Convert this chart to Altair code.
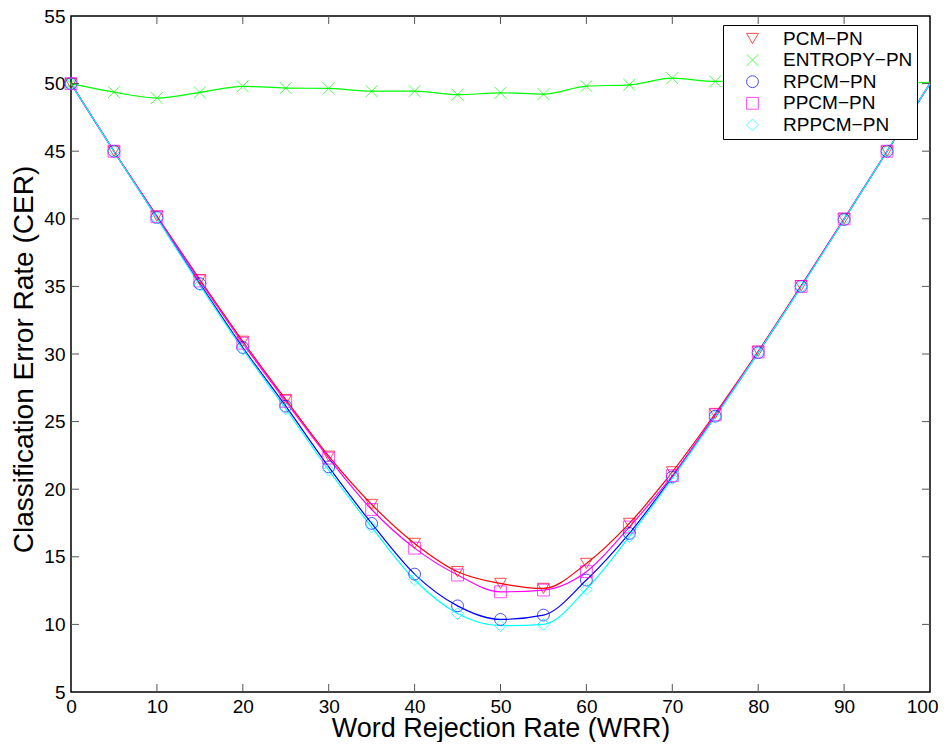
import altair as alt
import pandas as pd

# ---- data ----
x_vals = [0, 5, 10, 15, 20, 25, 30, 35, 40, 45, 50, 55, 60, 65, 70, 75, 80, 85, 90, 95, 100]
series_names = ["PCM\u2212PN", "ENTROPY\u2212PN", "RPCM\u2212PN", "PPCM\u2212PN", "RPPCM\u2212PN"]

pcm = [50.0, 45.0, 40.2, 35.5, 30.94, 26.63, 22.44, 18.87, 15.99, 13.9, 13.03, 12.66,
       14.51, 17.47, 21.28, 25.6, 30.2, 35.05, 40.0, 45.0, 50.0]
entropy = [50.0, 49.37, 48.93, 49.35, 49.8, 49.67, 49.64, 49.44, 49.44, 49.18, 49.32, 49.22,
           49.81, 49.91, 50.4, 50.16, 50.3, 50.1, 50.2, 50.0, 50.1]
rpcm = [50.0, 45.0, 40.1, 35.2, 30.48, 26.14, 21.65, 17.47, 13.72, 11.37, 10.37, 10.69,
        13.28, 16.73, 20.91, 25.4, 30.1, 35.0, 39.95, 45.0, 50.0]
ppcm = [50.0, 45.0, 40.15, 35.4, 30.8, 26.5, 22.3, 18.5, 15.64, 13.65, 12.41, 12.54,
        13.9, 17.2, 21.0, 25.5, 30.15, 35.0, 40.0, 45.0, 50.0]
rppcm = [50.0, 45.0, 40.05, 35.1, 30.35, 25.95, 21.4, 17.2, 13.3, 10.8, 9.9, 10.0,
         12.6, 16.5, 20.8, 25.35, 30.1, 34.95, 39.95, 45.0, 50.0]

colors = ["#FF0000", "#00FF00", "#0000FF", "#FF00FF", "#00FFFF"]
shapes = ["triangle-down", "M-1,-1L1,1M1,-1L-1,1", "circle", "square", "diamond"]

x_label_vals = [0, 10, 20, 30, 40, 50, 60, 70, 80, 90, 100]
y_label_vals = [5, 10, 15, 20, 25, 30, 35, 40, 45, 50, 55]
x_tick_vals = [10, 20, 30, 40, 50, 60, 70, 80, 90]
y_tick_vals = [10, 15, 20, 25, 30, 35, 40, 45, 50]

# ---- build tables ----
rows = []
for name, vals in zip(series_names, [pcm, entropy, rpcm, ppcm, rppcm]):
    for xv, yv in zip(x_vals, vals):
        rows.append({"series": name, "x": xv, "y": yv})
df = pd.DataFrame(rows)
xt = pd.DataFrame({"x": x_tick_vals})
yt = pd.DataFrame({"y": y_tick_vals})

W, H = 859, 676

x_enc = alt.X("x:Q", scale=alt.Scale(domain=[0, 100], nice=False, zero=False),
              axis=alt.Axis(values=x_label_vals, ticks=False, tickSize=0, domain=False, grid=False,
                            labelFlush=False, labelFontSize=19, labelColor="black", labelPadding=5,
                            labelAlign={"condition": {"test": "datum.value === 100", "value": "right"},
                                        "value": "center"},
                            labelOffset={"condition": {"test": "datum.value === 100", "value": 8},
                                         "value": 0},
                            title="Word Rejection Rate (WRR)", titleFontSize=27,
                            titleFontWeight="normal", titleColor="black",
                            titleY=44, titleBaseline="alphabetic"))
y_enc = alt.Y("y:Q", scale=alt.Scale(domain=[5, 55], nice=False, zero=False),
              axis=alt.Axis(values=y_label_vals, ticks=False, tickSize=0, domain=False, grid=False,
                            labelFlush=False, labelFontSize=19, labelColor="black", labelPadding=6,
                            title="Classification Error Rate (CER)", titleFontSize=28,
                            titleFontWeight="normal", titleColor="black",
                            titleX=-33, titleY=343))

legend = alt.Legend(orient="none", legendX=652, legendY=9, title=None,
                    fillColor="white", strokeColor="black", padding=4, rowPadding=1.6,
                    symbolOffset=16, labelOffset=21, labelFontSize=19, labelColor="black",
                    symbolSize=140, symbolStrokeWidth=1, labelLimit=300, zindex=2)

line_layers = []
for name, col in zip(series_names, colors):
    line_layers.append(
        alt.Chart(df).transform_filter(alt.datum.series == name)
        .mark_line(strokeWidth=1.2, interpolate="monotone", color=col)
        .encode(x=x_enc, y=y_enc)
    )

points = alt.Chart(df).transform_filter("datum.x < 100").mark_point(
    filled=False, size=140, strokeWidth=1
).encode(
    x=x_enc, y=y_enc,
    color=alt.Color("series:N", scale=alt.Scale(domain=series_names, range=colors), legend=legend),
    shape=alt.Shape("series:N", scale=alt.Scale(domain=series_names, range=shapes), legend=legend),
)

tick_color = "#555555"
xb = alt.Chart(xt).mark_rule(color=tick_color, strokeWidth=1).encode(
    x=x_enc, y=alt.value(H), y2=alt.value(H - 8))
xtop = alt.Chart(xt).mark_rule(color=tick_color, strokeWidth=1).encode(
    x=x_enc, y=alt.value(0), y2=alt.value(8))
yl = alt.Chart(yt).mark_rule(color=tick_color, strokeWidth=1).encode(
    y=y_enc, x=alt.value(0), x2=alt.value(8))
yr = alt.Chart(yt).mark_rule(color=tick_color, strokeWidth=1).encode(
    y=y_enc, x=alt.value(W), x2=alt.value(W - 8))

chart = alt.layer(*line_layers, points, xb, xtop, yl, yr).properties(
    width=W, height=H,
    autosize=alt.AutoSizeParams(type="none"),
    padding={"left": 63, "top": 8, "right": 8, "bottom": 50},
    background="white",
).configure(font="Liberation Sans").configure_view(
    stroke="black", strokeWidth=1.5
)

chart.save("out.html", embed_options={"renderer": "svg", "actions": False})
